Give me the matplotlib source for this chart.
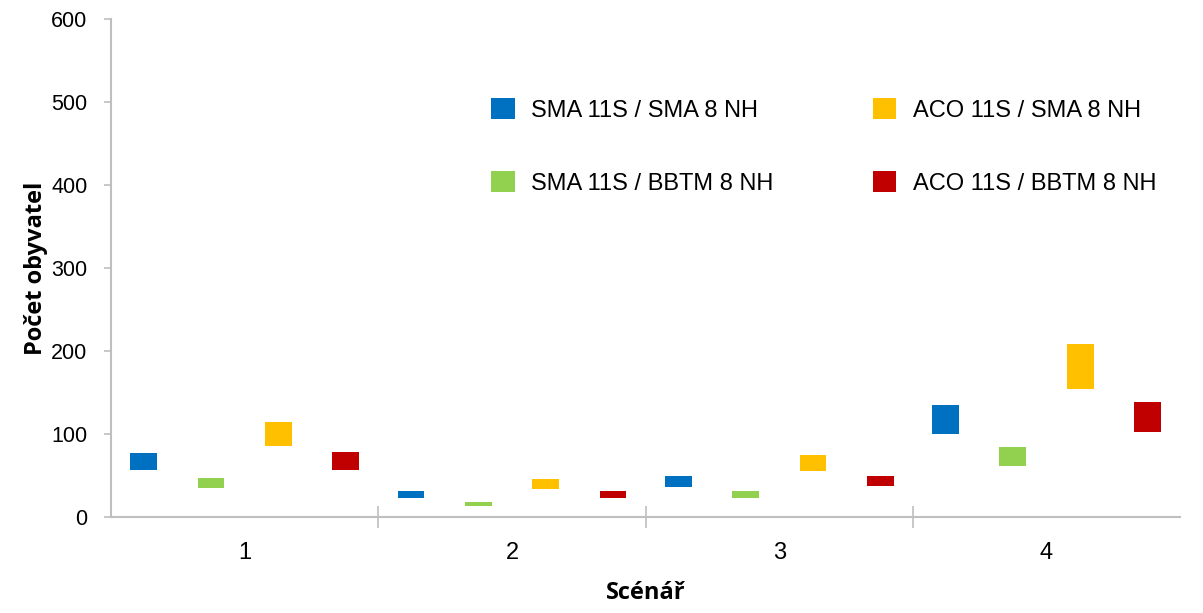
import matplotlib.pyplot as plt
import numpy as np
from matplotlib.patches import Patch

scenarios = ['1', '2', '3', '4']
series = ['SMA 11S / SMA 8 NH', 'SMA 11S / BBTM 8 NH', 'ACO 11S / SMA 8 NH', 'ACO 11S / BBTM 8 NH']
colors = ['#0070C0', '#92D050', '#FFC000', '#C00000']

# min / max per scenario for each series
low = {
    'SMA 11S / SMA 8 NH': [57, 23, 36, 100],
    'SMA 11S / BBTM 8 NH': [35, 13, 23, 62],
    'ACO 11S / SMA 8 NH': [85, 34, 56, 154],
    'ACO 11S / BBTM 8 NH': [57, 23, 37, 103],
}
high = {
    'SMA 11S / SMA 8 NH': [77, 31, 49, 135],
    'SMA 11S / BBTM 8 NH': [47, 18, 31, 84],
    'ACO 11S / SMA 8 NH': [115, 46, 75, 208],
    'ACO 11S / BBTM 8 NH': [78, 31, 50, 139],
}

plt.rcParams['font.family'] = ['Liberation Sans', 'DejaVu Sans']

fig = plt.figure(figsize=(12.03, 6.13), dpi=100)
ax = fig.add_axes([0.0923, 0.1566, 0.8887, 0.8124])

x = np.arange(len(scenarios))
offsets = [-0.378, -0.126, 0.126, 0.378]
for s, off, c in zip(series, offsets, colors):
    lo = np.array(low[s])
    hi = np.array(high[s])
    ax.bar(x + off, hi - lo, bottom=lo, width=0.1, color=c, label=s)

ax.set_xlim(-0.5, 3.5)
ax.set_ylim(0, 600)
ax.set_yticks(range(0, 601, 100))
ax.set_xticks(x)
ax.set_xticklabels(scenarios)
ax.set_xticks([0.5, 1.5, 2.5], minor=True)

grey = '#BFBFBF'
for side in ['top', 'right']:
    ax.spines[side].set_visible(False)
for side in ['left', 'bottom']:
    ax.spines[side].set_color(grey)
    ax.spines[side].set_linewidth(1.5)

ax.tick_params(axis='y', direction='out', length=5, width=1.2, color=grey, labelsize=15.5, pad=12)
ax.tick_params(axis='x', which='major', length=0, labelsize=17, pad=18)
ax.tick_params(axis='x', which='minor', direction='inout', length=16, width=1.2, color=grey)

ax.set_ylabel('Počet obyvatel', fontsize=17, fontweight='bold', family='Open Sans', labelpad=2)
ax.set_xlabel('Scénář', fontsize=17, fontweight='bold', family='Open Sans', labelpad=12)

handles = [Patch(facecolor=c, edgecolor='none') for c in colors]
fig.legend(handles, series, loc='upper left', bbox_to_anchor=(491 / 1203, 1 - 98 / 613),
           ncol=2, frameon=False, fontsize=17, handlelength=1.0, handleheight=1.0,
           handletextpad=0.7, columnspacing=4.2, labelspacing=2.1, borderpad=0,
           borderaxespad=0)

plt.savefig('out.png', dpi=100)
plt.close()
